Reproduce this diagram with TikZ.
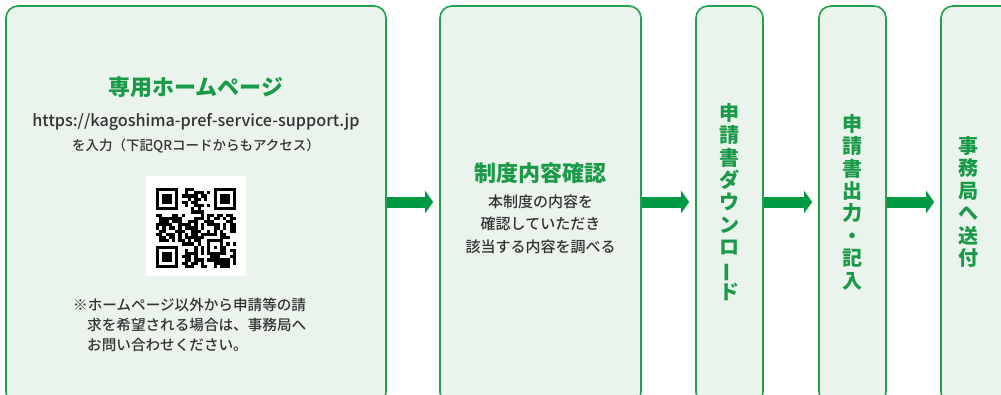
\documentclass[tikz,border=0pt]{standalone}
\usepackage{fontspec}
\setmainfont{Noto Sans CJK JP}
\newfontfamily\jpmed{Noto Sans CJK JP Medium}
\usetikzlibrary{arrows.meta}
\definecolor{boxfill}{HTML}{EAF4EC}
\definecolor{boxdraw}{HTML}{22A04B}
\definecolor{titlegreen}{HTML}{1A9A48}
\definecolor{arrowgreen}{HTML}{009A44}
\definecolor{bodytext}{HTML}{333333}
\newcommand{\vbar}{\rotatebox[origin=c]{90}{ー}}
\begin{document}
\begin{tikzpicture}[x=1pt,y=-1pt,
  box/.style={draw=boxdraw, fill=boxfill, line width=1.6pt, rounded corners=12pt, inner sep=0pt},
  title/.style={text=titlegreen, font=\fontsize{22}{26}\selectfont\bfseries, inner sep=0pt},
  body/.style={text=bodytext, font=\jpmed\fontsize{15}{22.5}\selectfont, align=center, inner sep=0pt},
  note/.style={text=bodytext, font=\jpmed\fontsize{14.6}{20}\selectfont, anchor=west, inner sep=0pt},
  vert/.style={text=titlegreen, font=\fontsize{20}{22.4}\selectfont\bfseries, align=center, inner sep=0pt},
  arr/.style={draw=arrowgreen, line width=11pt, -{Triangle[length=8pt,width=22pt]}}
]
\clip (0,0) rectangle (1001,394);
\fill[white] (0,0) rectangle (1001,394);
% boxes
\node[box, minimum width=380pt, minimum height=398pt] (b1) at (196,205) {};
\node[box, minimum width=201pt, minimum height=398pt] (b2) at (540.5,205) {};
\node[box, minimum width=67pt, minimum height=398pt] (b3) at (729.5,205) {};
\node[box, minimum width=67pt, minimum height=398pt] (b4) at (852.5,205) {};
\node[box, minimum width=120pt, minimum height=398pt] (b5) at (1001,205) {};
% arrows
\draw[arr] ([yshift=3pt]b1.east) -- ([yshift=3pt,xshift=-6pt]b2.west);
\draw[arr] ([yshift=3pt]b2.east) -- ([yshift=3pt,xshift=-6pt]b3.west);
\draw[arr] ([yshift=3pt]b3.east) -- ([yshift=3pt,xshift=-6pt]b4.west);
\draw[arr] ([yshift=3pt]b4.east) -- ([yshift=3pt,xshift=-6pt]b5.west);
% box 1
\node[title] (t1) at (196,87) {専用ホームページ};
\node[body, font=\jpmed\fontsize{16.2}{18}\selectfont] (url) at (196,122) {https://kagoshima-pref-service-support.jp};
\node[body, font=\jpmed\fontsize{13.5}{18}\selectfont] (u2) at (196,146) {を入力（下記QRコードからもアクセス）};
\fill[white] (146,176) rectangle (246,276);
\begin{scope}[black]
\pgfmathsetseed{11}
\foreach \i in {0,...,24}{\foreach \j in {0,...,24}{
  \pgfmathsetmacro\r{rnd}
  \pgfmathtruncatemacro\sk{(((\i<8)&&(\j<8)) || ((\i>16)&&(\j<8)) || ((\i<8)&&(\j>16)) || ((\i>14)&&(\i<20)&&(\j>14)&&(\j<20))) ? 1 : 0}
  \ifnum\sk=0 \ifdim\r pt<0.55pt \fill (156+\i*3.2,188+\j*3.2) rectangle ++(3.25,3.25);\fi\fi
}}
\foreach \a/\b in {0/0,18/0,0/18}{
  \fill (156+\a*3.2,188+\b*3.2) rectangle ++(22.4,22.4);
  \fill[white] (156+\a*3.2+3.2,188+\b*3.2+3.2) rectangle ++(16,16);
  \fill (156+\a*3.2+6.4,188+\b*3.2+6.4) rectangle ++(9.6,9.6);
}
\fill (156+16*3.2,188+16*3.2) rectangle ++(16,16);
\fill[white] (156+17*3.2,188+17*3.2) rectangle ++(9.6,9.6);
\fill (156+18*3.2,188+18*3.2) rectangle ++(3.2,3.2);
\end{scope}
\node[note] (n1) at (73,305) {※ホームページ以外から申請等の請};
\node[note] (n2) at (87,325) {求を希望される場合は、事務局へ};
\node[note] (n3) at (87,345) {お問い合わせください。};
% box 2
\node[title] (t2) at (540.5,173) {制度内容確認};
\node[body] (d2) at (540.5,224) {本制度の内容を\\確認していただき\\該当する内容を調べる};
% vertical texts
\node[vert] (v3) at (729.5,202) {申\\請\\書\\ダ\\ウ\\ン\\ロ\\\vbar\\ド};
\node[vert] (v4) at (852.5,202) {申\\請\\書\\出\\力\\・\\記\\入};
\node[vert] (v5) at (968,202) {事\\務\\局\\へ\\送\\付};
\end{tikzpicture}
\end{document}
